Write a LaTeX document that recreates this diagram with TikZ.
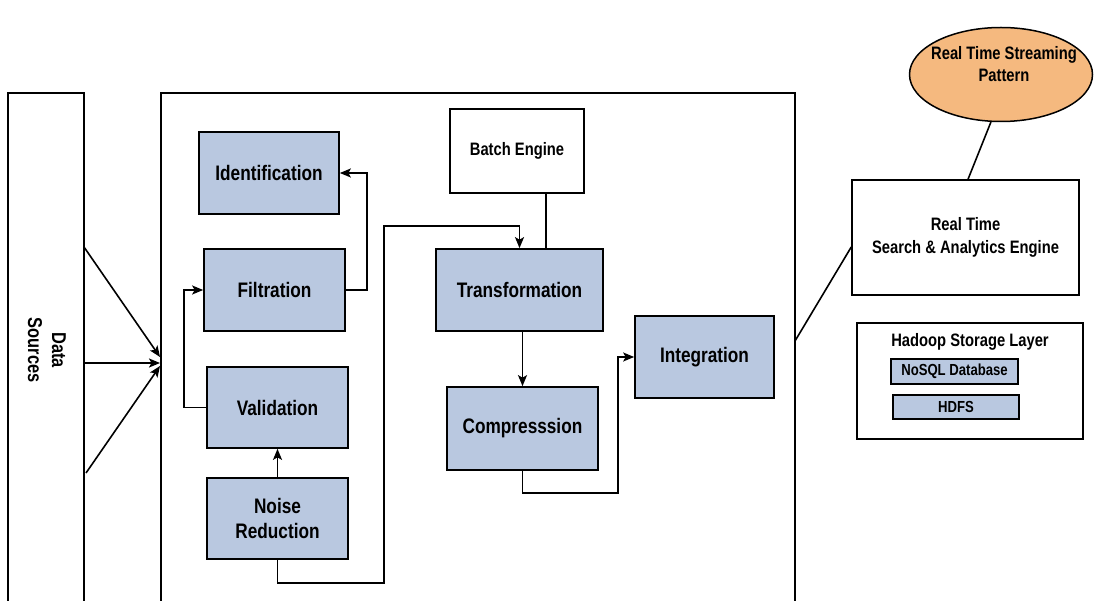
\documentclass[tikz,border=0pt]{standalone}
\usepackage{fontspec}
\setmainfont{Liberation Sans}[FakeStretch=0.82]
\usetikzlibrary{arrows.meta,calc,shapes.geometric}
\definecolor{boxblue}{HTML}{B9C8E0}
\definecolor{ellorange}{HTML}{F5B97F}
\tikzset{
  bbox/.style={draw, line width=1.7pt, fill=boxblue, inner sep=2pt, align=center,
    font=\bfseries\fontsize{21}{25}\selectfont},
  wbox/.style={draw, line width=1.5pt, fill=white, inner sep=2pt, align=center,
    font=\bfseries\fontsize{18}{23}\selectfont},
  sbox/.style={draw, line width=1.5pt, fill=boxblue, inner sep=1pt, align=center,
    font=\bfseries\fontsize{16}{18}\selectfont},
  frame/.style={draw, line width=1.4pt, inner sep=0pt},
  conn/.style={line width=1.6pt},
  arr/.style={conn, -{Stealth[length=11pt,width=9pt,inset=2.5pt]}},
}
\begin{document}
\begin{tikzpicture}[x=1pt,y=-1pt]
\useasboundingbox (0,0) rectangle (1094,601);
\clip (0,0) rectangle (1094,601);
\fill[white] (0,0) rectangle (1094,601);
% big frames
\node[frame, minimum width=76, minimum height=527] (ds) at (46,356.5) {};
\node[rotate=-90, align=center, font=\bfseries\fontsize{20}{24}\selectfont] (dslabel) at (47,350) {Data\\Sources};
\node[frame, minimum width=634, minimum height=527] (main) at (478,356.5) {};
% boxes
\node[bbox, minimum width=140, minimum height=82] (ident) at (269,173) {Identification};
\node[bbox, minimum width=141, minimum height=82] (filt) at (274.5,290) {Filtration};
\node[bbox, minimum width=141, minimum height=81] (valid) at (277.5,407.5) {Validation};
\node[bbox, minimum width=141, minimum height=81] (noise) at (277.5,518.5) {Noise\\Reduction};
\node[wbox, minimum width=134, minimum height=84] (batch) at (517,151) {Batch Engine};
\node[bbox, minimum width=167, minimum height=82] (trans) at (519.5,290) {Transformation};
\node[bbox, minimum width=151, minimum height=83] (comp) at (522.5,428.5) {Compresssion};
\node[bbox, minimum width=139, minimum height=82] (integ) at (704.5,357) {Integration};
% right side
\node[ellipse, draw, line width=1.5pt, fill=ellorange, minimum width=183, minimum height=94, inner sep=0pt] (ell) at (1001,74.5) {};
\node[align=center, font=\bfseries\fontsize{18}{22}\selectfont] (elltext) at (1004,64) {Real Time Streaming\\Pattern};
\node[wbox, minimum width=227, minimum height=115] (rt) at (965.5,237.5) {Real Time\\Search \& Analytics Engine};
\node[frame, minimum width=226, minimum height=116, line width=1.5pt] (hadoop) at (970,381) {};
\node[font=\bfseries\fontsize{18}{20}\selectfont] (hlabel) at (970,342) {Hadoop Storage Layer};
\node[sbox, minimum width=127, minimum height=25] (nosql) at (954.5,371.5) {NoSQL Database};
\node[sbox, minimum width=126, minimum height=24] (hdfs) at (956,407) {HDFS};
% data source arrows
\coordinate (s1) at (84,247);
\coordinate (s2) at (84,363);
\coordinate (s3) at (86,473);
\coordinate (t1) at (160,357);
\coordinate (t2) at (160,363);
\coordinate (t3) at (160,366);
\draw[arr] (s1) -- (t1);
\draw[arr] (s2) -- (t2);
\draw[arr] (s3) -- (t3);
% flow connectors
\draw[arr] (filt.east) -- ++(21,0) |- (ident.east);
\draw[arr] (valid.west) -- ++(-22,0) |- (filt.west);
\draw[arr] (noise.north) -- (valid.south);
\coordinate (nr) at (384,226);
\draw[arr] (noise.south) -- ++(0,23) -| (nr) -| (trans.north);
\coordinate (bl) at (546,0);
\draw[conn] (batch.south -| bl) -- (trans.north -| bl);
\draw[arr] (trans.south -| comp.north) -- (comp.north);
\draw[arr] (comp.south) -- ++(0,22) -| ($(integ.west)+(-16,0)$) -- (integ.west);
% right connectors
\coordinate (m1) at (795,341);
\draw[conn] (m1) -- ($(rt.west)+(0,9.5)$);
\draw[conn] (ell.258) -- ($(rt.north)+(2.5,0)$);
\end{tikzpicture}
\end{document}
